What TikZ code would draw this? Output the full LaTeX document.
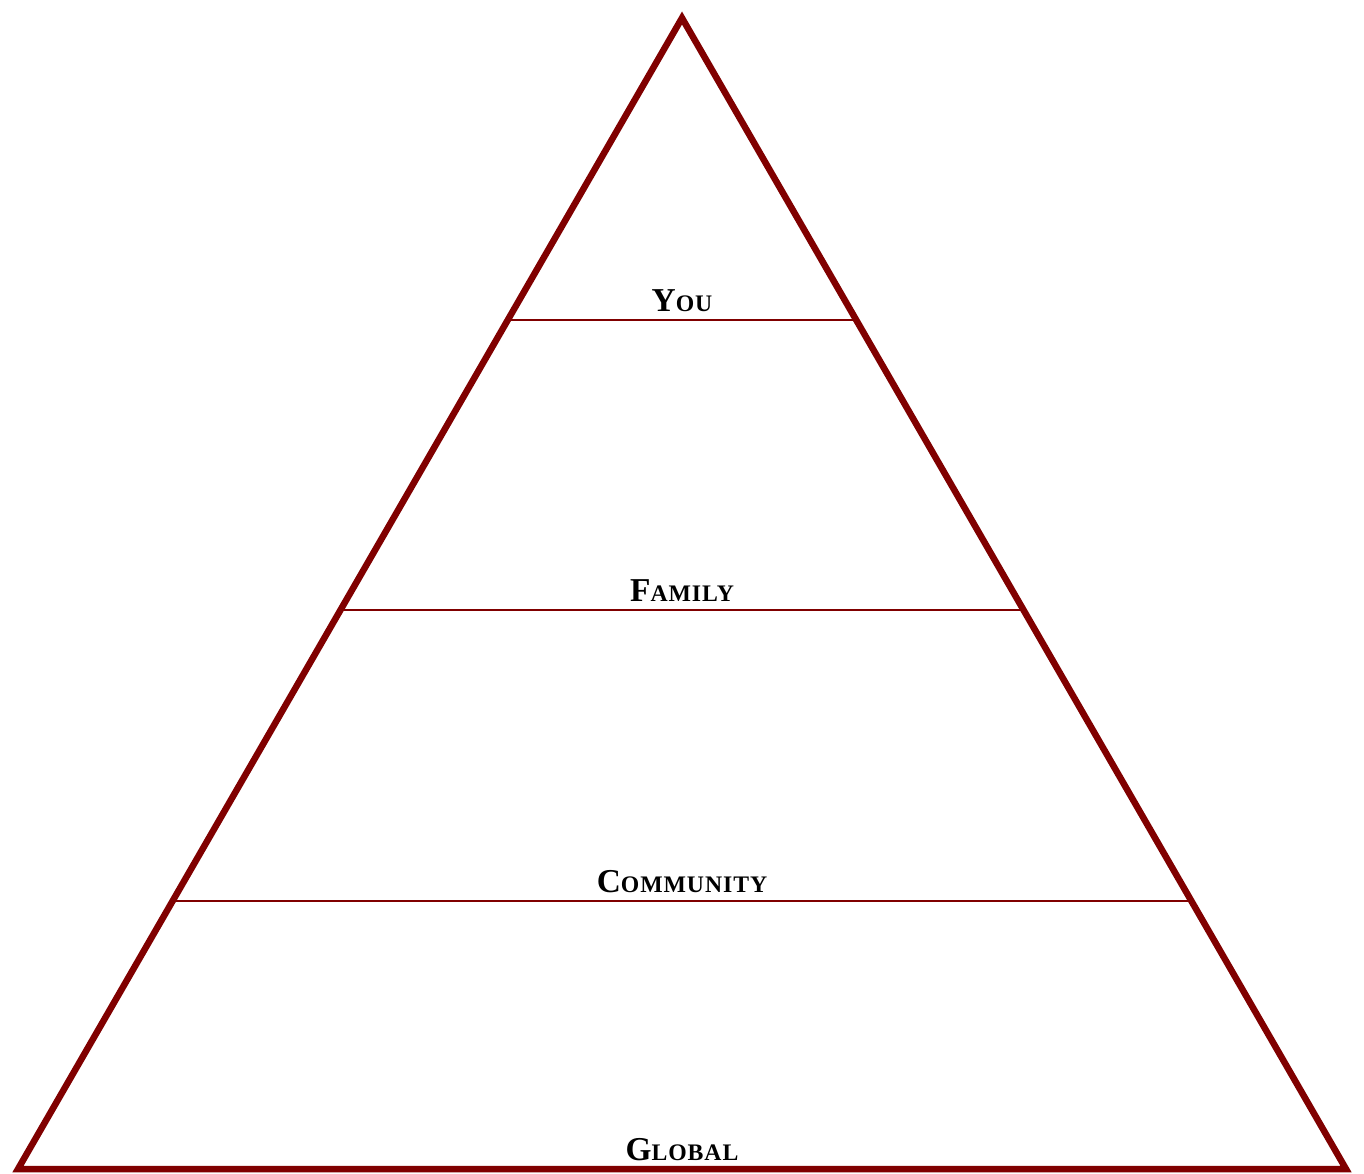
\documentclass[tikz,border=0pt]{standalone}
\usepackage{fontspec}
\usepackage{tikz}
\usetikzlibrary{calc}
\newfontfamily\tierfont[LetterSpace=4]{Liberation Serif}
\definecolor{tiermaroon}{RGB}{128,0,0}
% hand-made small caps: first letter big, the rest smaller
\newcommand\tiername[2]{#1{\fontsize{13.5}{16}\selectfont #2}}

\begin{document}
\begin{tikzpicture}[
      outline/.style={draw=tiermaroon,line width=3.7pt,line join=miter},
      divider/.style={draw=tiermaroon,line width=1.4pt},
      tier/.style={anchor=base,inner sep=0pt,text=black,font=\tierfont\bfseries\fontsize{19}{22}\selectfont}
    ]
    \useasboundingbox (0,0) rectangle (27.28,-23.46);
    \coordinate (apex) at (13.64,-0.36);
    \coordinate (bl) at (0.36,-23.38);
    \coordinate (br) at (26.92,-23.38);
    % dividing lines between the tiers
    \coordinate (youl) at ($(apex)!0.2624!(bl)$);
    \coordinate (your) at ($(apex)!0.2624!(br)$);
    \coordinate (faml) at ($(apex)!0.5144!(bl)$);
    \coordinate (famr) at ($(apex)!0.5144!(br)$);
    \coordinate (coml) at ($(apex)!0.7672!(bl)$);
    \coordinate (comr) at ($(apex)!0.7672!(br)$);
    \draw[divider] (youl) -- (your);
    \draw[divider] (faml) -- (famr);
    \draw[divider] (coml) -- (comr);
    \draw[outline] (apex) -- (bl) -- (br) -- cycle;
    % labels
    \node[tier] (you) at ($($(youl)!0.5!(your)$)+(0,0.18)$) {\tiername{Y}{OU}};
    \node[tier] (family) at ($($(faml)!0.5!(famr)$)+(0,0.18)$) {\tiername{F}{AMILY}};
    \node[tier] (community) at ($($(coml)!0.5!(comr)$)+(0,0.18)$) {\tiername{C}{OMMUNITY}};
    \node[tier] (global) at ($($(bl)!0.5!(br)$)+(0,0.18)$) {\tiername{G}{LOBAL}};
\end{tikzpicture}
\end{document}
